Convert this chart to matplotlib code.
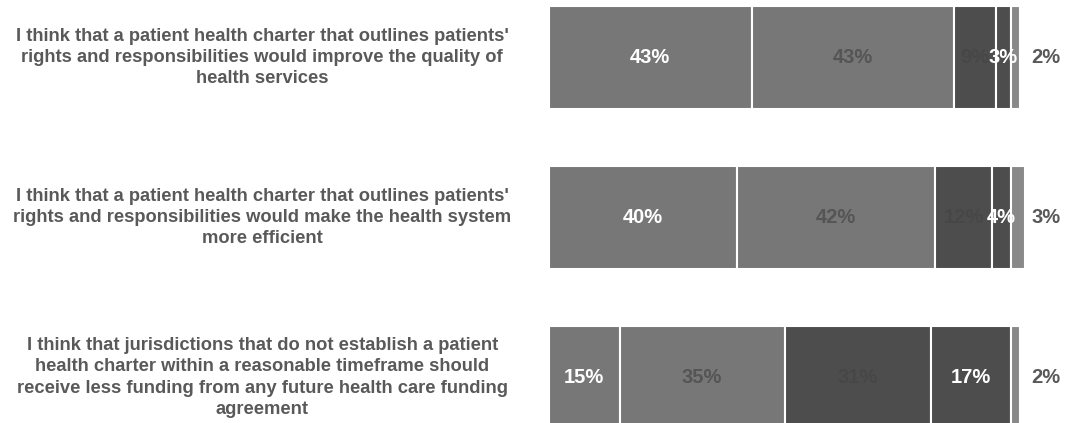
import matplotlib
matplotlib.use("Agg")
import matplotlib.pyplot as plt

plt.rcParams['font.family'] = ['Liberation Sans', 'DejaVu Sans']

categories = [
    "I think that a patient health charter that outlines patients'\nrights and responsibilities would improve the quality of\nhealth services",
    "I think that a patient health charter that outlines patients'\nrights and responsibilities would make the health system\nmore efficient",
    "I think that jurisdictions that do not establish a patient\nhealth charter within a reasonable timeframe should\nreceive less funding from any future health care funding\nagreement",
]
seg1 = [43, 40, 15]
seg2 = [43, 42, 35]
seg3 = [9, 12, 31]
seg4 = [3, 4, 17]
seg5 = [2, 3, 2]
series = [seg1, seg2, seg3, seg4, seg5]

seg_colors = ['#777777', '#777777', '#4d4d4d', '#4d4d4d', '#898989']
label_colors = ['#ffffff', '#555555', '#474747', '#ffffff', '#595959']

W, H = 1087, 423
fig = plt.figure(figsize=(W / 100, H / 100), dpi=100)
left_px, right_px = 549, 1020
ax = fig.add_axes([left_px / W, 0, (right_px - left_px) / W, 1])
spacing = 160.0
ax.set_xlim(0, 100)
ax.set_ylim((H - 57.5) / spacing, -57.5 / spacing)
ax.axis('off')

bar_h = 103 / spacing
for i in range(len(categories)):
    start = 0
    for k, s in enumerate(series):
        v = s[i]
        ax.barh(i, v, left=start, height=bar_h, color=seg_colors[k],
                edgecolor='white', linewidth=1.5, clip_on=False)
        if k < 4:
            ax.text(start + v / 2, i, f"{v}%", ha='center', va='center',
                    fontsize=14.5, fontweight='bold', color=label_colors[k])
        else:
            ax.text(102.4, i, f"{v}%", ha='left', va='center',
                    fontsize=14.5, fontweight='bold', color=label_colors[k],
                    clip_on=False)
        start += v
    ax.text(-60.9, i, categories[i], ha='center', va='center',
            fontsize=13.2, fontweight='bold', color='#595959',
            linespacing=1.32, clip_on=False)

fig.savefig('out.png', dpi=100)
